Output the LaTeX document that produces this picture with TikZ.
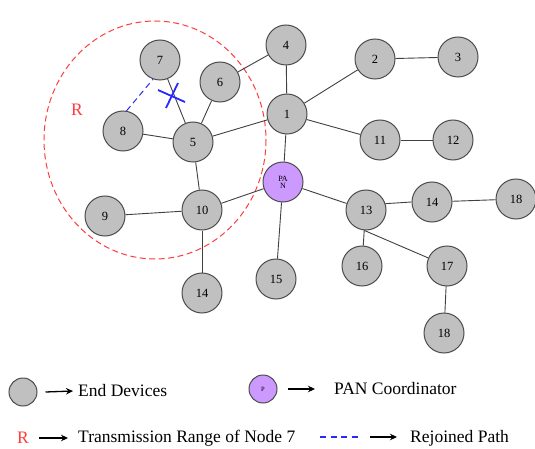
\documentclass[tikz,border=0pt]{standalone}
\usepackage{fontspec}
\setmainfont{Liberation Serif}
\usetikzlibrary{arrows.meta}
\definecolor{devgray}{RGB}{192,192,192}
\definecolor{panpurple}{RGB}{204,153,255}
\definecolor{rangered}{RGB}{255,60,60}
\definecolor{pathblue}{RGB}{40,40,255}
\begin{document}
\begin{tikzpicture}[x=1pt,y=-1pt,
  dev/.style={circle,draw=black!70,line width=1pt,fill=devgray,minimum size=40pt,
    inner sep=0pt,font=\fontsize{12.5}{12.5}\selectfont},
  pan/.style={circle,draw=black!70,line width=1pt,fill=panpurple,minimum size=40pt,
    inner sep=0pt,align=center,font=\fontsize{8}{8}\selectfont},
  link/.style={draw=black!75,line width=0.9pt},
  legarrow/.style={line width=1.3pt,-{Stealth[length=7pt,width=6.5pt]}},
  legtext/.style={anchor=west,inner sep=0pt,font=\fontsize{17.5}{17.5}\selectfont},
  rejoin/.style={draw=pathblue,line width=1pt,dash pattern=on 6pt off 4pt}]
\useasboundingbox (0,0) rectangle (535,449);

% transmission range of node 7
\draw[rangered,line width=1pt,dash pattern=on 6pt off 3.5pt] (155,140) ellipse [x radius=111, y radius=119];
\node[text=rangered,font=\fontsize{17.5}{17.5}\selectfont] (rlab) at (77,110) {R};

% devices
\node[dev] (n4)  at (286,45)  {4};
\node[dev] (n7)  at (160,60)  {7};
\node[dev] (n6)  at (220,82)  {6};
\node[dev] (n2)  at (375,59)  {2};
\node[dev] (n3)  at (458,57)  {3};
\node[dev] (n8)  at (123,131) {8};
\node[dev] (n5)  at (193,142) {5};
\node[dev] (n1)  at (287,114) {1};
\node[dev] (n11) at (380,140) {11};
\node[dev] (n12) at (453,140) {12};
\node[pan] (pan) at (283,182) {PA\\[-1pt]N};
\node[dev] (n9)  at (105,216) {9};
\node[dev] (n10) at (202,210) {10};
\node[dev] (n13) at (366,210) {13};
\node[dev] (n14r) at (432,202) {14};
\node[dev] (n18r) at (516,199) {18};
\node[dev] (n16) at (362,266) {16};
\node[dev] (n17) at (447,266) {17};
\node[dev] (n18b) at (444,333) {18};
\node[dev] (n15) at (276,279) {15};
\node[dev] (n14b) at (202,293) {14};

% links
\foreach \a/\b in {n7/n5,n6/n5,n6/n4,n4/n1,n1/n2,n2/n3,n1/n5,n1/n11,n11/n12,n1/pan,
  n8/n5,n5/n10,n10/n9,n10/pan,n10/n14b,pan/n15,pan/n13,n14r/n18r,n17/n18b}
  \draw[link] (\a) -- (\b);
\draw[link] (n13.18) -- (n14r.west);
\draw[link] (n13.265) -- (n16);
\draw[link] (n13.265) -- (n17);

% rejoined path and broken link
\draw[rejoin] (n8.80) -- (n7.250);
\coordinate (cut) at (172,96);
\draw[pathblue,line width=1.8pt] ([shift={(-14,-6)}]cut) -- ([shift={(13,6)}]cut);
\draw[pathblue,line width=1.8pt] ([shift={(6,-13)}]cut) -- ([shift={(-6,12)}]cut);

% legend
\node[circle,draw=black!70,line width=1pt,fill=devgray,minimum size=28pt,inner sep=0pt] (lgdev) at (23,392) {};
\coordinate (a1) at (73,391);
\draw[legarrow] ([xshift=8pt]lgdev.east) -- (a1);
\node[legtext] (t1) at (78,391) {End Devices};

\node[circle,draw=black!70,line width=1pt,fill=panpurple,minimum size=28pt,inner sep=0pt,
  font=\fontsize{6.5}{6.5}\selectfont] (lgpan) at (263,389) {P};
\coordinate (a2) at (315,389);
\draw[legarrow] ([xshift=10pt]lgpan.east) -- (a2);
\node[legtext] (t2) at (334,389) {PAN Coordinator};

\node[text=rangered,font=\fontsize{17.5}{17.5}\selectfont] (lgr) at (23,438) {R};
\coordinate (a3) at (68,438);
\draw[legarrow] ([xshift=7pt]lgr.east) -- (a3);
\node[legtext] (t3) at (78,438) {Transmission Range of Node 7};

\coordinate (b1) at (320,437);
\coordinate (b2) at (358,437);
\draw[pathblue,line width=1.3pt,dash pattern=on 6pt off 4.5pt] (b1) -- (b2);
\coordinate (a4) at (397,437);
\draw[legarrow] ([xshift=12pt]b2) -- (a4);
\node[legtext] (t4) at (410,438) {Rejoined Path};
\end{tikzpicture}
\end{document}
